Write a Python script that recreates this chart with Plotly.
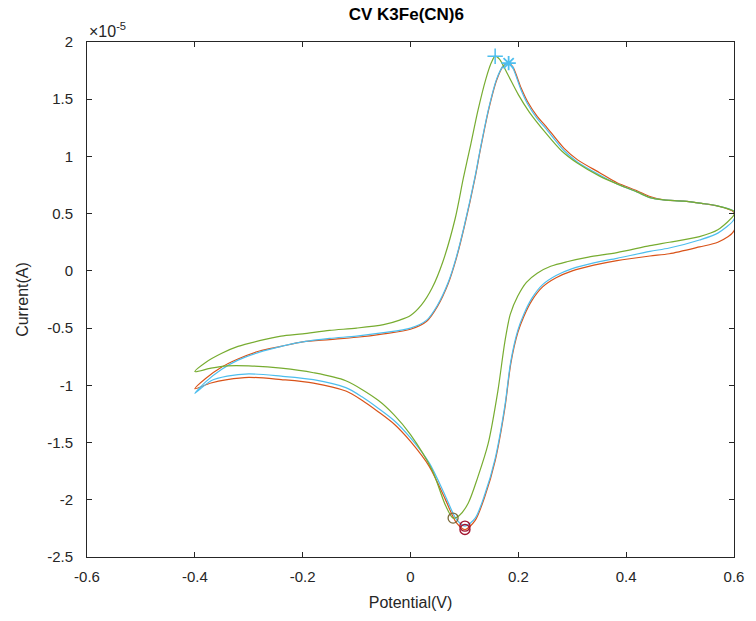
import plotly.graph_objects as go

# Cyclic voltammograms of K3Fe(CN)6 (current in units of 1e-5 A)

# scan A (cyan) - forward then reverse sweep
cyan_v = [-0.40, -0.38, -0.35, -0.32, -0.28, -0.24, -0.20, -0.15, -0.10, -0.05, 0.00, 0.03, 0.05, 0.07,
          0.085, 0.10, 0.12, 0.13, 0.145, 0.16, 0.172, 0.182, 0.19, 0.205, 0.217, 0.235, 0.25, 0.285, 0.31,
          0.35, 0.383, 0.42, 0.444, 0.47, 0.506, 0.54, 0.567, 0.60,
          0.60, 0.57, 0.536, 0.48, 0.444, 0.383, 0.34, 0.30, 0.27, 0.245, 0.225, 0.21, 0.199, 0.186, 0.175,
          0.157, 0.138, 0.12, 0.101, 0.085, 0.064, 0.035, 0.00, -0.03, -0.06, -0.09, -0.12, -0.18, -0.24,
          -0.30, -0.34, -0.37, -0.40]
cyan_i = [-1.07, -0.97, -0.86, -0.78, -0.71, -0.66, -0.62, -0.59, -0.57, -0.54, -0.50, -0.43, -0.30, -0.10,
          0.12, 0.40, 0.83, 1.08, 1.42, 1.68, 1.79, 1.815, 1.77, 1.58, 1.46, 1.33, 1.25, 1.05, 0.95,
          0.84, 0.76, 0.69, 0.64, 0.62, 0.61, 0.59, 0.57, 0.52,
          0.45, 0.33, 0.27, 0.20, 0.17, 0.11, 0.07, 0.02, -0.04, -0.12, -0.24, -0.38, -0.52, -0.79, -1.18,
          -1.64, -1.95, -2.16, -2.23, -2.17, -1.96, -1.68, -1.46, -1.31, -1.20, -1.10, -1.02, -0.95, -0.92,
          -0.90, -0.92, -0.96, -1.07]

# scan B (orange)
orange_v = [-0.40, -0.38, -0.35, -0.32, -0.28, -0.24, -0.20, -0.15, -0.10, -0.05, 0.00, 0.03, 0.05, 0.07,
            0.085, 0.10, 0.12, 0.13, 0.145, 0.16, 0.172, 0.182, 0.19, 0.205, 0.217, 0.235, 0.25, 0.285, 0.31,
            0.35, 0.383, 0.42, 0.444, 0.47, 0.506, 0.54, 0.567, 0.60,
            0.60, 0.57, 0.536, 0.48, 0.444, 0.383, 0.34, 0.30, 0.27, 0.245, 0.225, 0.21, 0.199, 0.186, 0.175,
            0.157, 0.138, 0.12, 0.101, 0.085, 0.064, 0.035, 0.00, -0.03, -0.06, -0.09, -0.12, -0.18, -0.24,
            -0.30, -0.34, -0.37, -0.40]
orange_i = [-1.03, -0.94, -0.84, -0.77, -0.70, -0.66, -0.62, -0.60, -0.58, -0.55, -0.51, -0.44, -0.31, -0.11,
            0.11, 0.39, 0.82, 1.07, 1.41, 1.67, 1.79, 1.815, 1.78, 1.60, 1.48, 1.35, 1.27, 1.07, 0.97,
            0.86, 0.77, 0.70, 0.65, 0.62, 0.61, 0.59, 0.57, 0.51,
            0.35, 0.25, 0.21, 0.15, 0.13, 0.09, 0.05, 0.00, -0.06, -0.14, -0.26, -0.40, -0.54, -0.81, -1.20,
            -1.66, -1.97, -2.18, -2.26, -2.20, -1.99, -1.71, -1.49, -1.34, -1.23, -1.13, -1.05, -0.98, -0.95,
            -0.93, -0.95, -0.98, -1.03]

# scan C (green) - shifted towards lower potential
green_v = [-0.40, -0.38, -0.35, -0.32, -0.28, -0.24, -0.20, -0.15, -0.10, -0.05, -0.02, 0.00, 0.02, 0.04,
           0.06, 0.083, 0.098, 0.112, 0.125, 0.14, 0.15, 0.157, 0.165, 0.18, 0.20, 0.22, 0.25, 0.28, 0.31,
           0.35, 0.383, 0.42, 0.444, 0.47, 0.506, 0.54, 0.567, 0.60,
           0.60, 0.57, 0.536, 0.48, 0.444, 0.383, 0.33, 0.29, 0.26, 0.235, 0.215, 0.199, 0.185, 0.175, 0.162,
           0.144, 0.125, 0.107, 0.09, 0.079, 0.065, 0.04, 0.00, -0.03, -0.06, -0.12, -0.18, -0.24, -0.30,
           -0.34, -0.37, -0.40]
green_i = [-0.88, -0.80, -0.72, -0.66, -0.61, -0.57, -0.55, -0.52, -0.50, -0.47, -0.43, -0.39, -0.30, -0.15,
           0.08, 0.46, 0.81, 1.11, 1.40, 1.68, 1.82, 1.876, 1.85, 1.72, 1.54, 1.39, 1.21, 1.05, 0.94,
           0.83, 0.76, 0.69, 0.64, 0.62, 0.61, 0.59, 0.57, 0.52,
           0.49, 0.36, 0.30, 0.25, 0.22, 0.16, 0.12, 0.08, 0.04, -0.02, -0.10, -0.22, -0.38, -0.62, -1.05,
           -1.51, -1.80, -2.03, -2.14, -2.16, -2.05, -1.74, -1.43, -1.26, -1.13, -0.96, -0.89, -0.85, -0.83,
           -0.83, -0.85, -0.88]

# peak markers
ox_peak_v = [0.157, 0.182]
ox_peak_i = [1.876, 1.815]
red_peak_v = [0.079, 0.101, 0.101]
red_peak_i = [-2.16, -2.23, -2.26]

# axis ticks
x_ticks = [-0.6, -0.4, -0.2, 0, 0.2, 0.4, 0.6]
x_tick_labels = ["-0.6", "-0.4", "-0.2", "0", "0.2", "0.4", "0.6"]
y_ticks = [-2.5, -2, -1.5, -1, -0.5, 0, 0.5, 1, 1.5, 2]
y_tick_labels = ["-2.5", "-2", "-1.5", "-1", "-0.5", "0", "0.5", "1", "1.5", "2"]

fig = go.Figure()
for v, i, c in [(orange_v, orange_i, "#D95319"), (cyan_v, cyan_i, "#4DBEEE"), (green_v, green_i, "#77AC30")]:
    fig.add_trace(go.Scatter(x=v, y=i, mode="lines", line=dict(color=c, width=1.2, shape="spline", smoothing=0.8),
                             showlegend=False, hoverinfo="skip"))

fig.add_trace(go.Scatter(x=[ox_peak_v[0]], y=[ox_peak_i[0]], mode="markers",
                         marker=dict(symbol="cross-thin-open", size=11, color="#4DBEEE", line=dict(color="#4DBEEE", width=1.5)),
                         showlegend=False))
fig.add_trace(go.Scatter(x=[ox_peak_v[1]], y=[ox_peak_i[1]], mode="markers",
                         marker=dict(symbol="asterisk-open", size=12, color="#4DBEEE", line=dict(color="#4DBEEE", width=1.8)),
                         showlegend=False))
fig.add_trace(go.Scatter(x=[red_peak_v[0]], y=[red_peak_i[0]], mode="markers",
                         marker=dict(symbol="circle-open", size=10, color="#7A6A3A", line=dict(color="#7A6A3A", width=1.3)),
                         showlegend=False))
fig.add_trace(go.Scatter(x=red_peak_v[1:], y=red_peak_i[1:], mode="markers",
                         marker=dict(symbol="circle-open", size=10, color="#A2142F", line=dict(color="#A2142F", width=1.4)),
                         showlegend=False))

axis_font = dict(family="Liberation Sans, Arial, sans-serif", size=14, color="#262626")
fig.update_layout(
    width=756, height=621,
    margin=dict(l=87, r=17, t=42, b=64),
    paper_bgcolor="white", plot_bgcolor="white",
    font=axis_font,
    title=dict(text="<b>CV K3Fe(CN)6</b>", x=0.5375, xanchor="center", y=0.978, yanchor="middle",
               font=dict(family="Liberation Sans, Arial, sans-serif", size=17, color="#000000")),
    xaxis=dict(range=[-0.6, 0.6], tickvals=x_ticks, ticktext=x_tick_labels, showgrid=False, zeroline=False,
               showline=True, linecolor="#262626", linewidth=1, mirror="ticks",
               ticks="inside", ticklen=5, tickcolor="#262626", ticklabelstandoff=6,
               title=dict(text="Potential(V)", standoff=12, font=dict(size=16)),
               tickfont=dict(size=15)),
    yaxis=dict(range=[-2.5, 2.0], tickvals=y_ticks, ticktext=y_tick_labels, showgrid=False, zeroline=False,
               showline=True, linecolor="#262626", linewidth=1, mirror="ticks",
               ticks="inside", ticklen=5, tickcolor="#262626", ticklabelstandoff=10,
               title=dict(text="Current(A)", standoff=14, font=dict(size=16)),
               tickfont=dict(size=15)),
)

fig.add_annotation(xref="paper", yref="paper", x=0.0, y=1.0, xanchor="left", yanchor="bottom",
                   text="\u00d710<sup>-5</sup>", showarrow=False, yshift=0,
                   font=dict(family="Liberation Sans, Arial, sans-serif", size=16, color="#262626"))

fig.write_html("out.html")
